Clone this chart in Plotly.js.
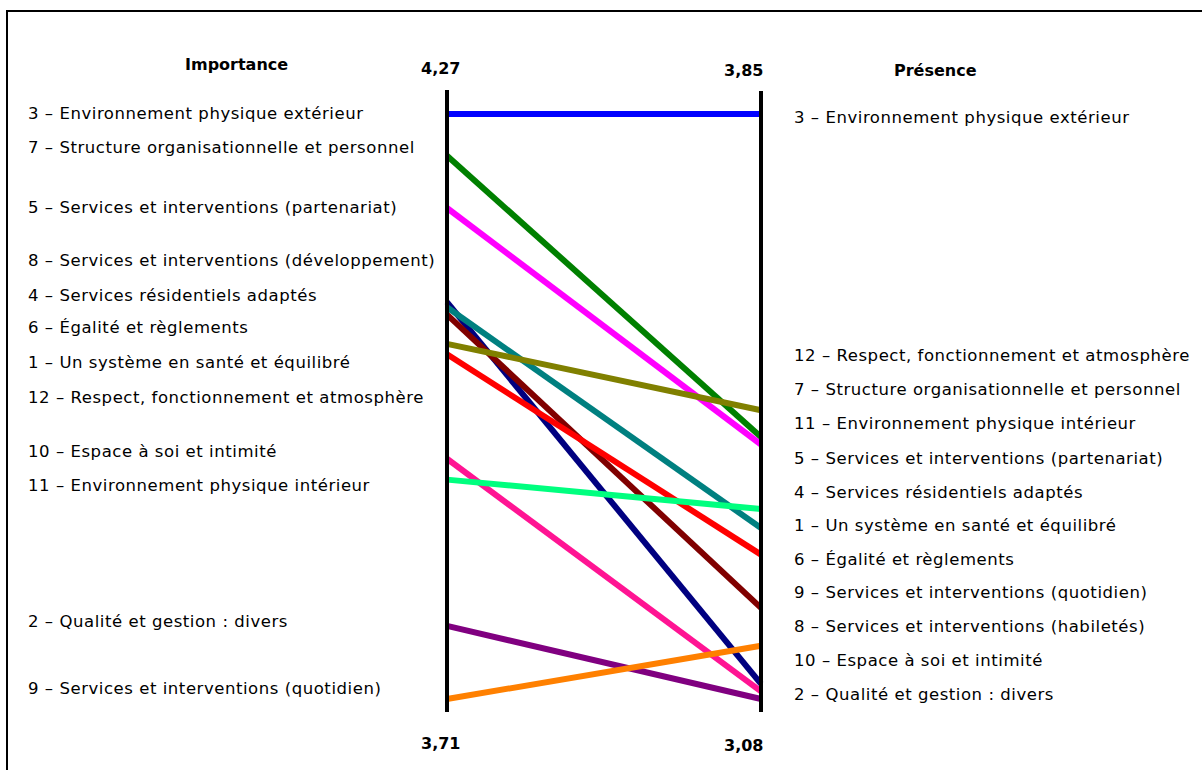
<!DOCTYPE html>
<html>
<head>
<meta charset="utf-8">
<script src="https://cdn.plot.ly/plotly-3.0.1.min.js"></script>
<style>html,body{margin:0;padding:0;background:#fff;}#chart{width:1202px;height:770px;}</style>
</head>
<body>
<div id="chart"></div>
<script>
// ---- data ----
const seriesNames = ['3', '7', '5', '8', '4', '6', '1', '12', '10', '11', '2', '9'];
const importance  = [4.27, 4.23, 4.18, 4.09, 4.085, 4.078, 4.05, 4.04, 3.94, 3.92, 3.78, 3.71];
const presence    = [3.85, 3.425, 3.415, 3.10, 3.305, 3.20, 3.46, 3.27, 3.09, 3.33, 3.08, 3.15];
const seriesColors = ['#0000ff', '#008000', '#ff00ff', '#000080', '#008080', '#800000',
                      '#808000', '#ff0000', '#ff1493', '#00ff7f', '#800080', '#ff8000'];
const leftLabels = [
  '3 – Environnement physique extérieur',
  '7 – Structure organisationnelle et personnel',
  '5 – Services et interventions (partenariat)',
  '8 – Services et interventions (développement)',
  '4 – Services résidentiels adaptés',
  '6 – Égalité et règlements',
  '1 – Un système en santé et équilibré',
  '12 – Respect, fonctionnement et atmosphère',
  '10 – Espace à soi et intimité',
  '11 – Environnement physique intérieur',
  '2 – Qualité et gestion : divers',
  '9 – Services et interventions (quotidien)'
];
const rightLabels = [
  '3 – Environnement physique extérieur',
  '12 – Respect, fonctionnement et atmosphère',
  '7 – Structure organisationnelle et personnel',
  '11 – Environnement physique intérieur',
  '5 – Services et interventions (partenariat)',
  '4 – Services résidentiels adaptés',
  '1 – Un système en santé et équilibré',
  '6 – Égalité et règlements',
  '9 – Services et interventions (quotidien)',
  '8 – Services et interventions (habiletés)',
  '10 – Espace à soi et intimité',
  '2 – Qualité et gestion : divers'
];
const leftTitle = 'Importance';
const rightTitle = 'Présence';

// ---- layout constants (pixels) ----
const W = 1202, H = 770;
const axL = 447, axR = 761;          // x of the two vertical axes
const yTop = 114, yBot = 699;        // pixel of max / min value
const leftLabelPx = [113, 147, 208, 261, 295, 328, 362, 397, 451, 485, 621, 688];
const rightLabelPx = [118, 356, 390, 424, 458, 492, 525, 559, 592, 626, 660, 694];
const leftLabelX = 26, rightLabelX = 792;

const impMax = Math.max(...importance), impMin = Math.min(...importance);
const preMax = Math.max(...presence),  preMin = Math.min(...presence);
const normL = v => (v - impMin) / (impMax - impMin);
const normR = v => (v - preMin) / (preMax - preMin);

const pxPerX = axR - axL;
const xRange = [-axL / pxPerX, (W - axL) / pxPerX];
const pxPerY = yBot - yTop;
const yRange = [-(H - yBot) / pxPerY, 1 + yTop / pxPerY];
const py = p => 1 - p / H;   // pixel -> paper y
const px = p => p / W;       // pixel -> paper x
const fmt = v => v.toFixed(2).replace('.', ',');

const FONT = 'DejaVu Sans, sans-serif';

const traces = seriesNames.map((n, i) => ({
  type: 'scatter', mode: 'lines', name: n,
  x: [0, 1], y: [normL(importance[i]), normR(presence[i])],
  line: {color: seriesColors[i], width: 6},
  hoverinfo: 'skip'
}));

const annotations = [];
const labFont = {family: FONT, size: 16.5, color: '#000'};
leftLabels.forEach((t, i) => annotations.push({
  text: t, xref: 'paper', yref: 'paper', x: px(leftLabelX), y: py(leftLabelPx[i]),
  xanchor: 'left', yanchor: 'middle', showarrow: false, font: labFont
}));
rightLabels.forEach((t, i) => annotations.push({
  text: t, xref: 'paper', yref: 'paper', x: px(rightLabelX), y: py(rightLabelPx[i]),
  xanchor: 'left', yanchor: 'middle', showarrow: false, font: labFont
}));
const nLabels = annotations.length;
const boldFont = {family: FONT, size: 16, color: '#000', weight: 'bold'};
const head = (t, x, y) => ({text: '<b>' + t + '</b>', xref: 'paper', yref: 'paper', x: px(x), y: py(y),
  showarrow: false, xanchor: 'center', yanchor: 'middle', font: boldFont});
annotations.push(
  head(leftTitle, 236, 64),
  head(rightTitle, 935, 70),
  head(fmt(impMax), 440, 68),
  head(fmt(preMax), 743, 71),
  head(fmt(impMin), 440, 743),
  head(fmt(preMin), 743, 745)
);

const shapes = [
  {type: 'line', xref: 'x', yref: 'paper', x0: 0, x1: 0, y0: py(90), y1: py(712), line: {color: '#000', width: 4}, layer: 'above'},
  {type: 'line', xref: 'x', yref: 'paper', x0: 1, x1: 1, y0: py(91), y1: py(712), line: {color: '#000', width: 4}, layer: 'above'},
  {type: 'rect', xref: 'paper', yref: 'paper', x0: px(7), x1: px(1215), y0: py(11), y1: py(790), line: {color: '#000', width: 2}}
];

const layout = {
  width: W, height: H,
  margin: {l: 0, r: 0, t: 0, b: 0},
  paper_bgcolor: '#fff', plot_bgcolor: '#fff',
  showlegend: false,
  xaxis: {range: xRange, visible: false, fixedrange: true},
  yaxis: {range: yRange, visible: false, fixedrange: true},
  annotations: annotations,
  shapes: shapes
};

Plotly.newPlot('chart', traces, layout, {staticPlot: true, displayModeBar: false}).then(() => {
  // widen label text slightly, keeping each label's left edge fixed
  document.querySelectorAll('#chart .annotation').forEach(g => {
    const i = +g.getAttribute('data-index');
    const t = g.querySelector('text');
    if (!t || i >= nLabels) return;
    const before = t.getBoundingClientRect().left;
    t.style.letterSpacing = '0.55px';
    const after = t.getBoundingClientRect().left;
    t.setAttribute('transform', 'translate(' + (before - after) + ',0)');
  });
});
</script>
</body>
</html>
